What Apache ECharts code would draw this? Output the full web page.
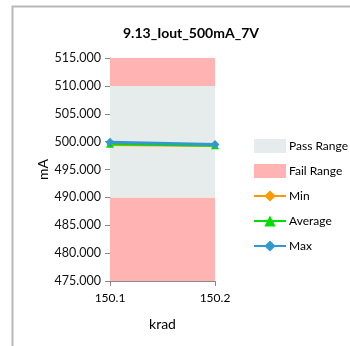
<!DOCTYPE html>
<html><head><meta charset="utf-8">
<script src="https://cdn.jsdelivr.net/npm/echarts@6/dist/echarts.min.js"></script>
<style>html,body{margin:0;padding:0;background:#fff}#c{width:350px;height:346px}</style>
</head><body><div id="c"></div>
<script>
const categories = ['150.1', '150.2'];
const failLow = [490, 490];
const passBand = [20, 20];
const failHigh = [5, 5];
const minVals = [499.5, 499.3];
const avgVals = [499.6, 499.35];
const maxVals = [499.9, 499.5];
const yTicks = {min: 475, max: 515, interval: 5};

const chart = echarts.init(document.getElementById('c'));
const F = 'Lato, "Open Sans", sans-serif';
const band = (name, data, color) => ({
  name, type: 'line', stack: 'band', data, symbol: 'none', silent: true,
  lineStyle: {width: 0}, itemStyle: {color}, areaStyle: {color, opacity: 1}, z: 1
});
const ln = (name, data, color, symbol, size) => ({
  name, type: 'line', data, symbol, symbolSize: size, z: 5,
  lineStyle: {width: 3, color}, itemStyle: {color}
});
chart.setOption({
  animation: false,
  title: {text: '9.13_Iout_500mA_7V', left: 186, textAlign: 'center', top: 21,
    textStyle: {fontFamily: F, fontSize: 14, fontWeight: 'bold', color: '#000'}},
  graphic: [{type: 'rect', shape: {x: 12.5, y: 6.5, width: 400, height: 400},
    style: {fill: 'none', stroke: '#b8b8b8', lineWidth: 2}, silent: true}],
  grid: {left: 110, right: 135, top: 58, bottom: 65},
  legend: {orient: 'vertical', left: 248, top: 133, itemGap: 9, itemWidth: 32, itemHeight: 14,
    textStyle: {fontFamily: F, fontSize: 12, color: '#000', padding: [0, 0, 0, -2], lineHeight: 14, height: 16},
    data: [
      {name: 'Pass Range', icon: 'rect', itemStyle: {color: '#e6ebeb'}},
      {name: 'Fail Range', icon: 'rect', itemStyle: {color: '#ffb3b3'}},
      {name: 'Min'}, {name: 'Average'}, {name: 'Max'}
    ]},
  xAxis: {type: 'category', data: categories, boundaryGap: false,
    name: 'krad', nameLocation: 'middle', nameGap: 36,
    nameTextStyle: {fontFamily: F, fontSize: 14, color: '#000'},
    axisLine: {lineStyle: {color: '#888'}},
    axisTick: {show: true, length: 5, lineStyle: {color: '#888'}},
    axisLabel: {fontFamily: F, fontSize: 12, color: '#000', margin: 11}},
  yAxis: {type: 'value', min: yTicks.min, max: yTicks.max, interval: yTicks.interval,
    name: 'mA', nameLocation: 'middle', nameGap: 60, nameRotate: 90,
    nameTextStyle: {fontFamily: F, fontSize: 14, color: '#000'},
    splitLine: {show: false},
    axisLine: {show: true, lineStyle: {color: '#888'}},
    axisTick: {show: true, length: 5, lineStyle: {color: '#888'}},
    axisLabel: {fontFamily: F, fontSize: 12.5, color: '#111', margin: 9,
      formatter: v => v.toFixed(3)}},
  series: [
    band('Fail Range', failLow, '#ffb3b3'),
    band('Pass Range', passBand, '#e6ebeb'),
    band('Fail Range', failHigh, '#ffb3b3'),
    ln('Min', minVals, '#ff9900', 'diamond', 7),
    ln('Average', avgVals, '#00dd00', 'triangle', 8),
    ln('Max', maxVals, '#3399cc', 'diamond', 9)
  ]
});
</script></body></html>
